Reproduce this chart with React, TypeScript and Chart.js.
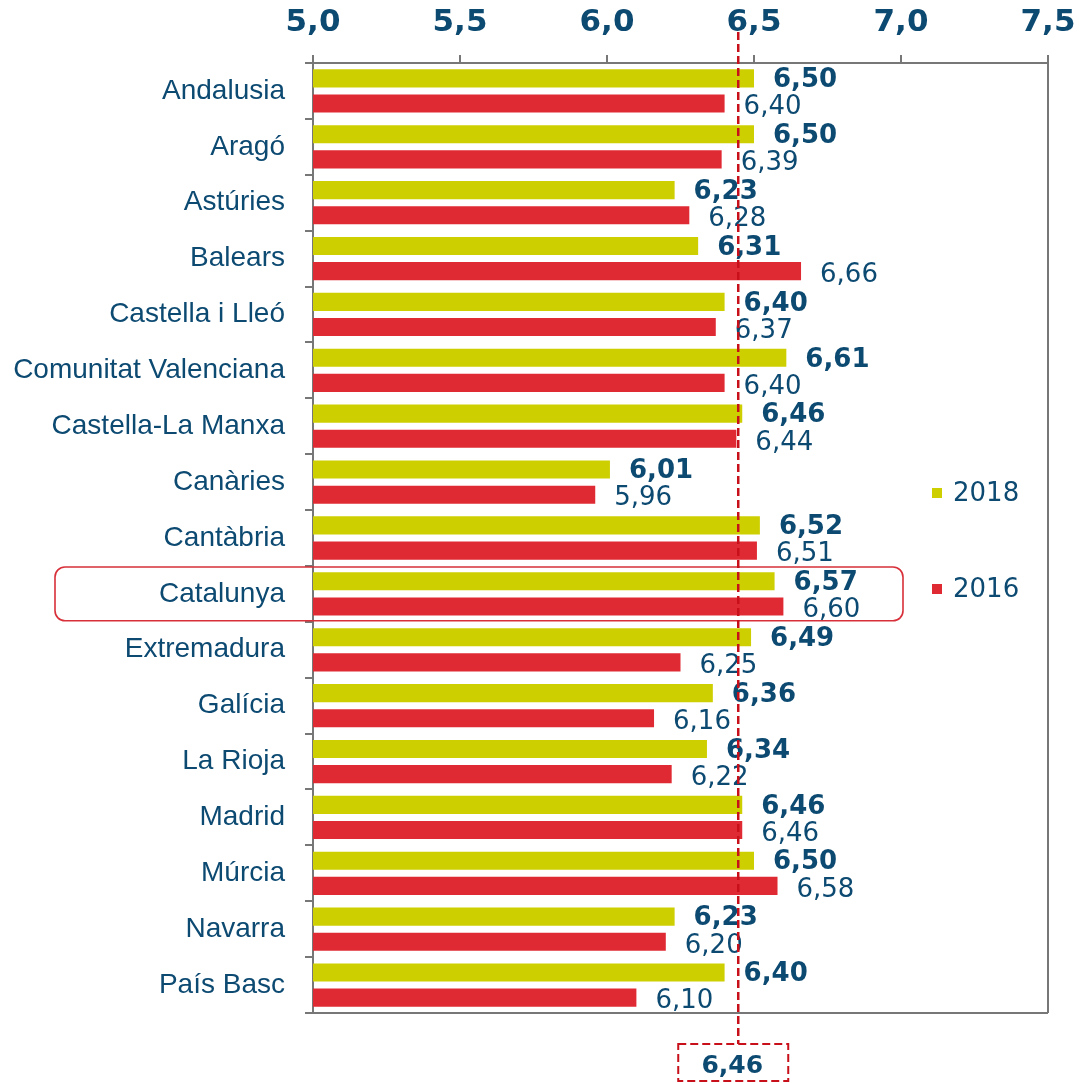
import React, { useEffect, useRef } from "react";
import { Chart, registerables } from "chart.js";

Chart.register(...registerables);

const categories = [
  "Andalusia", "Aragó", "Astúries", "Balears", "Castella i Lleó",
  "Comunitat Valenciana", "Castella-La Manxa", "Canàries", "Cantàbria",
  "Catalunya", "Extremadura", "Galícia", "La Rioja", "Madrid", "Múrcia",
  "Navarra", "País Basc",
];
const values2018 = [6.5, 6.5, 6.23, 6.31, 6.4, 6.61, 6.46, 6.01, 6.52, 6.57, 6.49, 6.36, 6.34, 6.46, 6.5, 6.23, 6.4];
const values2016 = [6.4, 6.39, 6.28, 6.66, 6.37, 6.4, 6.44, 5.96, 6.51, 6.6, 6.25, 6.16, 6.22, 6.46, 6.58, 6.2, 6.1];
const seriesLabels = ["2018", "2016"];
const xMin = 5.0;
const xMax = 7.5;
const xStep = 0.5;
const averageValue = 6.46;
const highlightCategory = "Catalunya";

const YELLOW = "#cdcf00";
const RED = "#e02a33";
const BLUE = "#0d4a72";
const GRAY = "#777777";
const DASH_RED = "#c8101a";

const fmt = (v: number, d: number) => v.toFixed(d).replace(".", ",");

const overlayPlugin = {
  id: "overlay",
  afterDatasetsDraw(chart: any) {
    const ctx = chart.ctx as CanvasRenderingContext2D;
    const area = chart.chartArea;
    const xs = chart.scales.x;
    const ys = chart.scales.y;
    const band = (area.bottom - area.top) / categories.length;

    // right & bottom frame
    ctx.save();
    ctx.strokeStyle = GRAY;
    ctx.lineWidth = 2;
    ctx.beginPath();
    ctx.moveTo(area.right, area.top);
    ctx.lineTo(area.right, area.bottom);
    ctx.moveTo(area.left, area.bottom);
    ctx.lineTo(area.right, area.bottom);
    ctx.stroke();
    ctx.restore();

    // data labels
    ctx.save();
    ctx.fillStyle = BLUE;
    ctx.textAlign = "left";
    ctx.textBaseline = "middle";
    [0, 1].forEach((di) => {
      const meta = chart.getDatasetMeta(di);
      const vals = di === 0 ? values2018 : values2016;
      ctx.font = (di === 0 ? "bold " : "") + "26px 'DejaVu Sans'";
      meta.data.forEach((bar: any, i: number) => {
        const x = xs.getPixelForValue(vals[i]) + 19;
        const y = bar.y + (di === 0 ? 2 : 4);
        ctx.fillText(fmt(vals[i], 2), x, y);
      });
    });
    ctx.restore();

    // highlight box
    const hi = categories.indexOf(highlightCategory);
    if (hi >= 0) {
      const cy = ys.getPixelForValue(hi);
      ctx.save();
      ctx.strokeStyle = "#d8303a";
      ctx.lineWidth = 1.6;
      ctx.beginPath();
      (ctx as any).roundRect(55, cy - band / 2 + 1, 848, band - 2, 10);
      ctx.stroke();
      ctx.restore();
    }

    // average dashed line + box
    const ax = xs.getPixelForValue(averageValue) - 4;
    ctx.save();
    ctx.strokeStyle = DASH_RED;
    ctx.lineWidth = 2.5;
    ctx.setLineDash([8, 4]);
    ctx.beginPath();
    ctx.moveTo(ax, 32);
    ctx.lineTo(ax, 1044);
    ctx.stroke();
    ctx.lineWidth = 2;
    ctx.strokeRect(ax - 60, 1044, 110, 37);
    ctx.setLineDash([]);
    ctx.fillStyle = BLUE;
    ctx.font = "bold 25px 'DejaVu Sans'";
    ctx.textAlign = "center";
    ctx.textBaseline = "middle";
    ctx.fillText(fmt(averageValue, 2), ax - 6, 1066);
    ctx.restore();

    // legend
    ctx.save();
    ctx.font = "26px 'DejaVu Sans'";
    ctx.textAlign = "left";
    ctx.textBaseline = "middle";
    const legendY = [494, 590];
    [YELLOW, RED].forEach((c, i) => {
      ctx.fillStyle = c;
      ctx.fillRect(932, legendY[i] - 6, 10, 10);
      ctx.fillStyle = BLUE;
      ctx.fillText(seriesLabels[i], 953, legendY[i]);
    });
    ctx.restore();
  },
};

export default function App() {
  const ref = useRef<HTMLCanvasElement | null>(null);
  useEffect(() => {
    document.body.style.margin = "0";
    document.body.style.overflow = "hidden";
    const canvas = ref.current;
    if (!canvas) return;
    const chart = new Chart(canvas, {
      type: "bar",
      data: {
        labels: categories,
        datasets: [
          { label: seriesLabels[0], data: values2018, backgroundColor: YELLOW, borderWidth: 0, categoryPercentage: 0.9, barPercentage: 0.72 },
          { label: seriesLabels[1], data: values2016, backgroundColor: RED, borderWidth: 0, categoryPercentage: 0.9, barPercentage: 0.72 },
        ],
      },
      options: {
        indexAxis: "y",
        responsive: false,
        animation: false,
        layout: { padding: { left: 0, top: 0, right: 32, bottom: 70 } },
        plugins: { legend: { display: false }, tooltip: { enabled: false } },
        scales: {
          x: {
            type: "linear",
            position: "top",
            min: xMin,
            max: xMax,
            ticks: {
              stepSize: xStep,
              callback: (v: any) => fmt(Number(v), 1),
              font: { family: "'DejaVu Sans'", size: 31, weight: "bold" },
              color: BLUE,
              padding: 13,
            },
            grid: { drawOnChartArea: false, drawTicks: true, tickLength: 8, color: GRAY, lineWidth: 2 },
            border: { display: true, color: GRAY, width: 2 },
            afterFit: (s: any) => { s.height = 63; s.paddingLeft = 0; s.paddingRight = 0; },
          },
          y: {
            ticks: {
              font: { family: "'Liberation Sans', Arial", size: 28 },
              color: BLUE,
              padding: 20,
            },
            grid: { drawOnChartArea: false, drawTicks: true, tickLength: 8, color: GRAY, lineWidth: 2, offset: true },
            border: { display: true, color: GRAY, width: 2 },
            afterFit: (s: any) => { s.width = 313; },
          },
        },
      },
      plugins: [overlayPlugin],
    } as any);
    return () => chart.destroy();
  }, []);
  return <canvas ref={ref} width={1080} height={1083} style={{ display: "block", width: 1080, height: 1083 }} />;
}
